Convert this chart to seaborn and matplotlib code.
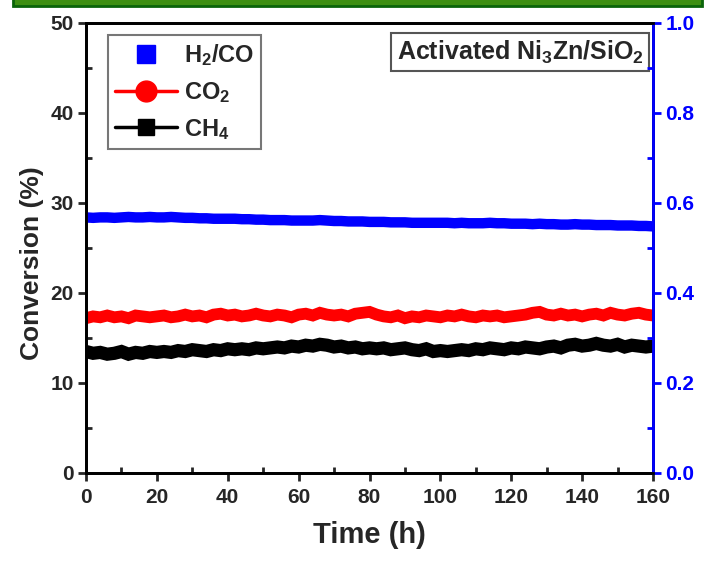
import numpy as np
import pandas as pd
import matplotlib
matplotlib.use("Agg")
import matplotlib.pyplot as plt
from matplotlib.lines import Line2D
from matplotlib.patches import Rectangle
from matplotlib.ticker import MultipleLocator, FormatStrFormatter
import seaborn as sns

# ---------------- data ----------------
time_h = list(range(0, 161, 2))

h2co_ratio = [
    0.568, 0.567, 0.568, 0.568, 0.567, 0.568, 0.569, 0.568, 0.568, 0.569, 0.568,
    0.568, 0.569, 0.568, 0.567, 0.567, 0.566, 0.566, 0.565, 0.565, 0.565,
    0.565, 0.564, 0.564, 0.563, 0.563, 0.562, 0.562, 0.562, 0.561, 0.561,
    0.561, 0.561, 0.562, 0.561, 0.560, 0.560, 0.559, 0.559, 0.559, 0.558,
    0.558, 0.558, 0.557, 0.557, 0.557, 0.556, 0.556, 0.556, 0.556, 0.556,
    0.556, 0.555, 0.556, 0.555, 0.555, 0.555, 0.556, 0.555, 0.555, 0.554,
    0.554, 0.554, 0.553, 0.554, 0.553, 0.553, 0.552, 0.552, 0.553, 0.552,
    0.552, 0.551, 0.551, 0.551, 0.550, 0.550, 0.550, 0.549, 0.549, 0.548,
]

co2_conv = [
    17.2, 17.4, 17.3, 17.5, 17.3, 17.4, 17.2, 17.5, 17.4, 17.3, 17.4,
    17.5, 17.3, 17.4, 17.6, 17.4, 17.5, 17.3, 17.6, 17.7, 17.5,
    17.6, 17.4, 17.5, 17.7, 17.5, 17.4, 17.6, 17.5, 17.3, 17.6,
    17.7, 17.5, 17.8, 17.6, 17.5, 17.6, 17.4, 17.7, 17.8, 17.9,
    17.6, 17.4, 17.3, 17.5, 17.2, 17.4, 17.3, 17.5, 17.4, 17.3,
    17.5, 17.4, 17.6, 17.4, 17.3, 17.5, 17.4, 17.5, 17.3, 17.4,
    17.5, 17.6, 17.8, 17.9, 17.6, 17.5, 17.7, 17.5, 17.6, 17.4,
    17.6, 17.7, 17.5, 17.8, 17.6, 17.5, 17.7, 17.8, 17.6, 17.5,
]

ch4_conv = [
    13.5, 13.3, 13.4, 13.2, 13.3, 13.5, 13.2, 13.4, 13.3, 13.5, 13.4,
    13.5, 13.4, 13.6, 13.5, 13.7, 13.6, 13.5, 13.7, 13.6, 13.8,
    13.7, 13.8, 13.7, 13.9, 13.8, 13.9, 14.0, 13.9, 14.1, 14.0,
    14.2, 14.1, 14.3, 14.2, 14.0, 14.1, 13.9, 14.0, 13.8, 13.9,
    13.8, 13.9, 13.7, 13.8, 13.9, 13.7, 13.6, 13.8, 13.5, 13.6,
    13.5, 13.6, 13.7, 13.6, 13.8, 13.7, 13.9, 13.8, 13.7, 13.9,
    13.8, 14.0, 13.9, 13.8, 14.0, 14.1, 13.9, 14.2, 14.3, 14.1,
    14.2, 14.4, 14.2, 14.1, 14.3, 14.0, 14.2, 14.1, 14.0, 14.1,
]

legend_labels = ["H$_2$/CO", "CO$_2$", "CH$_4$"]
panel_label = "Activated Ni$_3$Zn/SiO$_2$"

# ---------------- style ----------------
sns.set_style("ticks")
plt.rcParams["font.family"] = ["Liberation Sans", "DejaVu Sans"]
plt.rcParams["font.weight"] = "bold"
plt.rcParams["axes.labelweight"] = "bold"
plt.rcParams["mathtext.fontset"] = "custom"
plt.rcParams["mathtext.rm"] = "Liberation Sans:bold"
plt.rcParams["mathtext.bf"] = "Liberation Sans:bold"
plt.rcParams["mathtext.it"] = "Liberation Sans:bold"
plt.rcParams["mathtext.default"] = "bf"

df = pd.DataFrame({"time": time_h, "ratio": h2co_ratio,
                   "co2": co2_conv, "ch4": ch4_conv})

fig = plt.figure(figsize=(7.04, 5.63), dpi=100)
ax = fig.add_axes([86 / 704, 90 / 563, 567 / 704, 450 / 563])
ax2 = ax.twinx()

BLUE = "#0000ff"
RED = "#ff0000"

sns.lineplot(data=df, x="time", y="co2", ax=ax, color=RED, linewidth=8.5,
             solid_capstyle="butt", solid_joinstyle="miter", legend=False)
sns.lineplot(data=df, x="time", y="ch4", ax=ax, color="black", linewidth=9.5,
             solid_capstyle="butt", solid_joinstyle="miter", legend=False)
sns.lineplot(data=df, x="time", y="ratio", ax=ax2, color=BLUE, linewidth=7.5,
             solid_capstyle="butt", solid_joinstyle="miter", legend=False)

ax.set_xlim(0, 160)
ax.set_ylim(0, 50)
ax2.set_ylim(0, 1.0)
ax.xaxis.set_major_locator(MultipleLocator(20))
ax.xaxis.set_minor_locator(MultipleLocator(10))
ax.yaxis.set_major_locator(MultipleLocator(10))
ax.yaxis.set_minor_locator(MultipleLocator(5))
ax2.yaxis.set_major_locator(MultipleLocator(0.2))
ax2.yaxis.set_minor_locator(MultipleLocator(0.1))
ax2.yaxis.set_major_formatter(FormatStrFormatter("%.1f"))

for a in (ax, ax2):
    for s in a.spines.values():
        s.set_linewidth(2)
        s.set_color("black")
        s.set_visible(True)
ax2.spines["right"].set_color(BLUE)

ax.tick_params(axis="both", which="major", direction="out", length=6, width=2,
               labelsize=15, pad=3)
ax.tick_params(axis="x", which="major", pad=5)
ax.tick_params(axis="both", which="minor", direction="in", length=4, width=2)
ax.tick_params(axis="x", which="both", top=False)
ax2.tick_params(axis="y", which="major", direction="out", length=6, width=2,
                labelsize=15, colors=BLUE, pad=3)
ax2.tick_params(axis="y", which="minor", direction="in", length=4, width=2,
                colors=BLUE)

ax.set_xlabel("Time (h)", fontsize=21, labelpad=10)
ax.set_ylabel("Conversion (%)", fontsize=19)
ax.yaxis.set_label_coords(-0.074, 0.467)
ax2.set_ylabel("H$_2$/CO", fontsize=20, color=BLUE, labelpad=12)

handles = [
    Line2D([], [], color=BLUE, marker="s", linestyle="none", markersize=13),
    Line2D([], [], color=RED, marker="o", linewidth=2.5, markersize=15),
    Line2D([], [], color="black", marker="s", linewidth=2.5, markersize=12),
]
leg = ax.legend(handles, legend_labels, loc="upper left",
                bbox_to_anchor=(0.039, 0.973), borderaxespad=0,
                fontsize=17, frameon=True, fancybox=False,
                handlelength=2.6, handletextpad=0.3, labelspacing=0.5,
                borderpad=0.3)
leg.get_frame().set_edgecolor("#555555")
leg.get_frame().set_linewidth(1.5)
leg.set_zorder(10)

ax.text(0.984, 0.965, panel_label, transform=ax.transAxes, ha="right",
        va="top", fontsize=18,
        bbox=dict(boxstyle="square,pad=0.22", facecolor="white",
                  edgecolor="#555555", linewidth=1.5))

# green frame remnant at the top of the figure
fig.patches.append(Rectangle((13 / 704, 1 - 6 / 563), 689 / 704, 9 / 563,
                             transform=fig.transFigure, facecolor="#3d8f12",
                             edgecolor="#0a640a", linewidth=2, zorder=0))

fig.savefig("out.png", dpi=100)
